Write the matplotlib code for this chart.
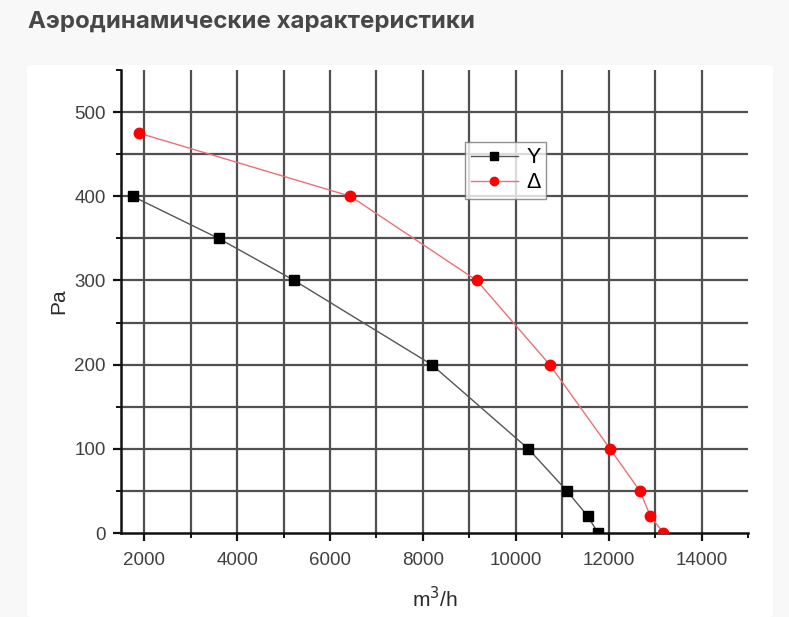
import matplotlib
matplotlib.use('Agg')
import matplotlib.pyplot as plt
from matplotlib.patches import FancyBboxPatch
from matplotlib.ticker import MultipleLocator

# Данные: расход (m3/h) и давление (Pa)
y_flow = [1750, 3600, 5230, 8190, 10270, 11100, 11550, 11770]
y_pa = [400, 350, 300, 200, 100, 50, 20, 0]

d_flow = [1890, 6440, 9160, 10730, 12030, 12670, 12900, 13180]
d_pa = [475, 400, 300, 200, 100, 50, 20, 0]

title = "Аэродинамические характеристики"

fig = plt.figure(figsize=(7.89, 6.17), dpi=100, facecolor='#f8f8f8')

# белая панель
panel = FancyBboxPatch((27 / 789, 0), 746 / 789, 552 / 617,
                       boxstyle="round,pad=0,rounding_size=0.006",
                       transform=fig.transFigure, facecolor='white',
                       edgecolor='none', zorder=-1)
fig.patches.append(panel)

fig.text(28 / 789, 1 - 22 / 617, title, fontsize=17.3, fontweight='bold',
         color='#474747', va='center', ha='left', family='Inter')

ax = fig.add_axes([121 / 789, 84 / 617, 627 / 789, 463 / 617])
ax.set_zorder(2)
ax.set_facecolor('none')

ax.plot(y_flow, y_pa, color='#555555', lw=1, marker='s', markersize=6.8,
        markerfacecolor='black', markeredgecolor='black', label='Y', zorder=3)
ax.plot(d_flow, d_pa, color='#e8707c', lw=1, marker='o', markersize=7.5,
        markerfacecolor='#ff0000', markeredgecolor='#ff0000', label='Δ', zorder=3)

ax.set_xlim(1500, 15000)
ax.set_ylim(0, 550)

ax.xaxis.set_major_locator(MultipleLocator(2000))
ax.xaxis.set_minor_locator(MultipleLocator(1000))
ax.yaxis.set_major_locator(MultipleLocator(100))
ax.yaxis.set_minor_locator(MultipleLocator(50))
ax.set_xticks(range(2000, 15000, 2000))
ax.set_yticks(range(0, 501, 100))

# сетка
for gx in range(2000, 15000, 1000):
    ax.axvline(gx, color='#505050', lw=1.6, zorder=1)
for gy in range(50, 501, 50):
    ax.axhline(gy, color='#505050', lw=1.6, zorder=1)

for s in ['top', 'right']:
    ax.spines[s].set_visible(False)
for s in ['left', 'bottom']:
    ax.spines[s].set_linewidth(1.8)
    ax.spines[s].set_color('#111111')

ax.tick_params(which='major', length=6, width=1.6, color='#111111',
               labelsize=13.5, labelcolor='#404040')
ax.tick_params(axis='x', which='major', pad=8)
ax.tick_params(axis='y', which='major', pad=5)
ax.tick_params(which='minor', length=3.5, width=1.4, color='#111111')
for lab in ax.get_xticklabels() + ax.get_yticklabels():
    lab.set_family('Liberation Sans')

ax.set_ylabel('Pa', fontsize=15, color='#2a2a2a', family='Liberation Sans',
              labelpad=4)
ax.set_xlabel('m$^3$/h', fontsize=15, color='#2a2a2a', family='Liberation Sans',
              labelpad=12)

leg = ax.legend(loc='upper left', bbox_to_anchor=(0.549, 0.845), fontsize=15.5,
                frameon=True, fancybox=False, edgecolor='#777777',
                handlelength=2.2, borderpad=0.25, labelspacing=0.2,
                handletextpad=0.4, borderaxespad=0, markerscale=0.8)
leg.get_frame().set_linewidth(1)
for t in leg.get_texts():
    t.set_family('Liberation Sans')

fig.savefig('out.png', dpi=100, facecolor=fig.get_facecolor())
